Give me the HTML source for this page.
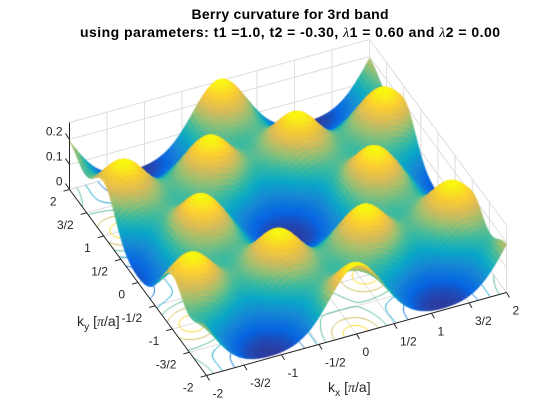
<!DOCTYPE html>
<html><head><meta charset="utf-8">
<style>
html,body{margin:0;padding:0;background:#fff;}
#wrap{position:relative;width:560px;height:420px;overflow:hidden;font-family:"Liberation Sans",sans-serif;}
svg,canvas{position:absolute;left:0;top:0;}
</style></head>
<body>
<div id="wrap">
<svg id="back" width="560" height="420"></svg>
<canvas id="cv" width="560" height="420"></canvas>
<svg id="front" width="560" height="420">
<text x="290" y="19" text-anchor="middle" font-size="14" font-weight="bold" fill="#000" textLength="197">Berry curvature for 3rd band</text>
<text x="290" y="37" text-anchor="middle" font-size="14" font-weight="bold" fill="#000" textLength="420">using parameters: t1 =1.0, t2 = -0.30, <tspan font-family="Liberation Serif" font-style="italic" font-weight="normal">λ</tspan>1 = 0.60 and <tspan font-family="Liberation Serif" font-style="italic" font-weight="normal">λ</tspan>2 = 0.00</text>
<text x="77" y="326" font-size="14" fill="#262626">k<tspan font-size="10.5" dy="4">y</tspan><tspan dy="-4"> [</tspan><tspan font-family="Liberation Serif" font-style="italic">π</tspan>/a]</text>
<text x="328" y="392" font-size="14" fill="#262626">k<tspan font-size="10.5" dy="4">x</tspan><tspan dy="-4"> [</tspan><tspan font-family="Liberation Serif" font-style="italic">π</tspan>/a]</text>
</svg>
</div>
<script>
// ---- data ----
const kxTicks = [-2,-1.5,-1,-0.5,0,0.5,1,1.5,2];
const kxTickLabels = ["-2","-3/2","-1","-1/2","0","1/2","1","3/2","2"];
const kyTicks = [-2,-1.5,-1,-0.5,0,0.5,1,1.5,2];
const kyTickLabels = ["-2","-3/2","-1","-1/2","0","1/2","1","3/2","2"];
const zTicks = [0,0.1,0.2];
const zTickLabels = ["0","0.1","0.2"];
const zLimits = [0,0.268];
const peakHeight = [0.27];
const peakWidth = [0.5];
const halfRecipB1 = [1.1547,0];
const halfRecipB2 = [0.5774,1];
const contourLevels = [0.05,0.1,0.15,0.2,0.25];

// ---- projection ----
const C0=[288,241], UX=[75,-20.75], UY=[-34.25,-46.5], ZS=250;
function P(kx,ky,z){return [C0[0]+UX[0]*kx+UY[0]*ky, C0[1]+UX[1]*kx+UY[1]*ky-ZS*z];}
function depth(kx,ky){return 20.75*kx+46.5*ky;}

// peak centres (M points) generated from lattice vectors
const mPoints=[];
for(let n1=-6;n1<=6;n1++)for(let n2=-4;n2<=4;n2++){
  if(n1%2===0 && n2%2===0) continue;
  mPoints.push([n1*halfRecipB1[0]+n2*halfRecipB2[0], n1*halfRecipB1[1]+n2*halfRecipB2[1]]);
}
function surf(kx,ky){
  const s2=peakWidth[0]*peakWidth[0];let s=0;
  for(const m of mPoints){const dx=kx-m[0],dy=ky-m[1];const r2=dx*dx+dy*dy;if(r2<6)s+=Math.exp(-r2/s2);}
  return peakHeight[0]*s;
}
const zTopVal=surf(halfRecipB1[0],halfRecipB1[1]);

const stops=[[0,[53,42,135]],[0.125,[3,99,225]],[0.25,[20,133,212]],[0.375,[6,167,198]],[0.5,[56,185,158]],[0.625,[146,191,115]],[0.75,[217,186,86]],[0.875,[252,206,46]],[1,[249,251,14]]];
function parula(t){t=Math.max(0,Math.min(1,t));
  for(let i=1;i<stops.length;i++){if(t<=stops[i][0]){const a=stops[i-1],b=stops[i];const f=(t-a[0])/(b[0]-a[0]);
    return 'rgb('+[0,1,2].map(k=>Math.round(a[1][k]+f*(b[1][k]-a[1][k]))).join(',')+')';}}
  return 'rgb(249,251,14)';}
function cmap(z){return parula(Math.max(0,z/zTopVal));}

const NS="http://www.w3.org/2000/svg";
function line(svg,p,q,stroke,w,name){const l=document.createElementNS(NS,'line');
  l.setAttribute('x1',p[0]);l.setAttribute('y1',p[1]);l.setAttribute('x2',q[0]);l.setAttribute('y2',q[1]);
  l.setAttribute('stroke',stroke);l.setAttribute('stroke-width',w);
  
  
  svg.appendChild(l);return l;}
function text(svg,x,y,s,anchor,name){const t=document.createElementNS(NS,'text');
  t.setAttribute('x',x);t.setAttribute('y',y);t.setAttribute('font-size','12');t.setAttribute('fill','#262626');
  t.setAttribute('text-anchor',anchor);t.textContent=s;
  
  
  svg.appendChild(t);}

// ---- back grid ----
const back=document.getElementById('back');
const G='#dedede', zTop=zLimits[1];
kxTicks.forEach(kx=>{line(back,P(kx,-2,0),P(kx,2,0),G,1,'floor-gridline-x');
  line(back,P(kx,2,0),P(kx,2,zTop),G,1,'wall-gridline-x');});
kyTicks.forEach(ky=>{line(back,P(-2,ky,0),P(2,ky,0),G,1,'floor-gridline-y');
  line(back,P(2,ky,0),P(2,ky,zTop),G,1,'wall-gridline-y');});
zTicks.concat([zTop]).forEach(z=>{line(back,P(-2,2,z),P(2,2,z),G,1,'wall-gridline-z');
  line(back,P(2,2,z),P(2,-2,z),G,1,'wall-gridline-z');});

// ---- canvas: contours + surface ----
const ctx=document.getElementById('cv').getContext('2d');
const NC=120, h=4/NC;
const Zc=[];for(let i=0;i<=NC;i++){Zc.push([]);for(let j=0;j<=NC;j++)Zc[i].push(surf(-2+i*h,-2+j*h));}
ctx.lineWidth=1;
contourLevels.forEach(L=>{
  ctx.strokeStyle=parula(L/zTopVal);ctx.beginPath();
  for(let i=0;i<NC;i++)for(let j=0;j<NC;j++){
    const v=[Zc[i][j],Zc[i+1][j],Zc[i+1][j+1],Zc[i][j+1]];
    const c=[[i,j],[i+1,j],[i+1,j+1],[i,j+1]];
    const pts=[];
    for(let e=0;e<4;e++){const a=v[e],b=v[(e+1)%4];
      if((a<L)!==(b<L)){const f=(L-a)/(b-a);const p=c[e],q=c[(e+1)%4];
        pts.push([-2+(p[0]+f*(q[0]-p[0]))*h,-2+(p[1]+f*(q[1]-p[1]))*h]);}}
    for(let k=0;k+1<pts.length;k+=2){const A=P(pts[k][0],pts[k][1],0),B=P(pts[k+1][0],pts[k+1][1],0);
      ctx.moveTo(A[0],A[1]);ctx.lineTo(B[0],B[1]);}
  }
  ctx.stroke();
});
const N=100, d=4/N;
const Z=[];for(let i=0;i<=N;i++){Z.push([]);for(let j=0;j<=N;j++)Z[i].push(surf(-2+i*d,-2+j*d));}
const cells=[];for(let i=0;i<N;i++)for(let j=0;j<N;j++)cells.push([i,j,depth(-2+(i+.5)*d,-2+(j+.5)*d)]);
cells.sort((a,b)=>b[2]-a[2]);
ctx.lineWidth=0.7;
cells.forEach(([i,j])=>{
  const x0=-2+i*d,y0=-2+j*d;
  const q=[P(x0,y0,Z[i][j]),P(x0+d,y0,Z[i+1][j]),P(x0+d,y0+d,Z[i+1][j+1]),P(x0,y0+d,Z[i][j+1])];
  const col=cmap((Z[i][j]+Z[i+1][j]+Z[i+1][j+1]+Z[i][j+1])/4);
  ctx.fillStyle=col;ctx.strokeStyle=col;ctx.beginPath();
  ctx.moveTo(q[0][0],q[0][1]);for(let k=1;k<4;k++)ctx.lineTo(q[k][0],q[k][1]);ctx.closePath();ctx.fill();ctx.stroke();
});

// ---- front axes ----
const front=document.getElementById('front');
const A='#262626';
line(front,P(-2,2,0),P(-2,-2,0),A,1,'y-axis-line');
line(front,P(-2,-2,0),P(2,-2,0),A,1,'x-axis-line');
line(front,P(-2,2,0),P(-2,2,zTop),A,1,'z-axis-line');
kyTicks.forEach((ky,i)=>{const p=P(-2,ky,0);line(front,p,[p[0]-6,p[1]+1.7],A,1,'y-tick');
  text(front,p[0]-13,p[1]+16,kyTickLabels[i],'end','y-tick-label');});
kxTicks.forEach((kx,i)=>{const p=P(kx,-2,0);line(front,p,[p[0]+3,p[1]+5],A,1,'x-tick');
  text(front,p[0]+6,p[1]+22,kxTickLabels[i],'start','x-tick-label');});
zTicks.forEach((z,i)=>{const p=P(-2,2,z);line(front,p,[p[0]-4,p[1]-6],A,1,'z-tick');
  text(front,p[0]-7,p[1]-4,zTickLabels[i],'end','z-tick-label');});
</script>
</body></html>
